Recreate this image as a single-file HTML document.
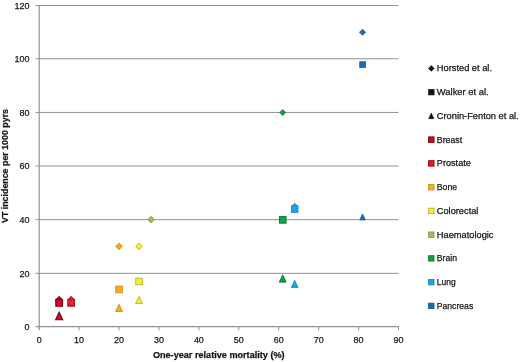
<!DOCTYPE html><html><head><meta charset="utf-8"><title>VT incidence</title>
<style>html,body{margin:0;padding:0;background:#fff}svg{display:block}text{font-family:"Liberation Sans", sans-serif;fill:#161616;stroke:#161616;stroke-width:0.25px}</style></head><body>
<svg width="520" height="362" viewBox="0 0 520 362">
<rect width="520" height="362" fill="#fff"/>
<line x1="35.60" x2="398.50" y1="273.35" y2="273.35" stroke="#929292" stroke-width="1"/>
<line x1="35.60" x2="398.50" y1="219.65" y2="219.65" stroke="#929292" stroke-width="1"/>
<line x1="35.60" x2="398.50" y1="166.00" y2="166.00" stroke="#929292" stroke-width="1"/>
<line x1="35.60" x2="398.50" y1="112.45" y2="112.45" stroke="#929292" stroke-width="1"/>
<line x1="35.60" x2="398.50" y1="58.75" y2="58.75" stroke="#929292" stroke-width="1"/>
<line x1="35.60" x2="398.50" y1="5.50" y2="5.50" stroke="#929292" stroke-width="1"/>
<line x1="39.20" x2="39.20" y1="5.00" y2="330.30" stroke="#929292" stroke-width="1.2"/>
<line x1="35.60" x2="399.00" y1="326.70" y2="326.70" stroke="#929292" stroke-width="1.2"/>
<text x="29.6" y="329.90" font-size="9.8" text-anchor="end" textLength="5.0" lengthAdjust="spacingAndGlyphs">0</text>
<text x="29.6" y="276.55" font-size="9.8" text-anchor="end" textLength="10.0" lengthAdjust="spacingAndGlyphs">20</text>
<text x="29.6" y="222.85" font-size="9.8" text-anchor="end" textLength="10.0" lengthAdjust="spacingAndGlyphs">40</text>
<text x="29.6" y="169.20" font-size="9.8" text-anchor="end" textLength="10.0" lengthAdjust="spacingAndGlyphs">60</text>
<text x="29.6" y="115.65" font-size="9.8" text-anchor="end" textLength="10.0" lengthAdjust="spacingAndGlyphs">80</text>
<text x="29.6" y="61.95" font-size="9.8" text-anchor="end" textLength="15.0" lengthAdjust="spacingAndGlyphs">100</text>
<text x="29.6" y="8.70" font-size="9.8" text-anchor="end" textLength="15.0" lengthAdjust="spacingAndGlyphs">120</text>
<text x="39.20" y="342.8" font-size="9.8" text-anchor="middle" textLength="5.0" lengthAdjust="spacingAndGlyphs">0</text>
<line x1="79.12" x2="79.12" y1="326.70" y2="330.30" stroke="#929292" stroke-width="1"/>
<text x="79.12" y="342.8" font-size="9.8" text-anchor="middle" textLength="10.0" lengthAdjust="spacingAndGlyphs">10</text>
<line x1="119.04" x2="119.04" y1="326.70" y2="330.30" stroke="#929292" stroke-width="1"/>
<text x="119.04" y="342.8" font-size="9.8" text-anchor="middle" textLength="10.0" lengthAdjust="spacingAndGlyphs">20</text>
<line x1="158.97" x2="158.97" y1="326.70" y2="330.30" stroke="#929292" stroke-width="1"/>
<text x="158.97" y="342.8" font-size="9.8" text-anchor="middle" textLength="10.0" lengthAdjust="spacingAndGlyphs">30</text>
<line x1="198.89" x2="198.89" y1="326.70" y2="330.30" stroke="#929292" stroke-width="1"/>
<text x="198.89" y="342.8" font-size="9.8" text-anchor="middle" textLength="10.0" lengthAdjust="spacingAndGlyphs">40</text>
<line x1="238.81" x2="238.81" y1="326.70" y2="330.30" stroke="#929292" stroke-width="1"/>
<text x="238.81" y="342.8" font-size="9.8" text-anchor="middle" textLength="10.0" lengthAdjust="spacingAndGlyphs">50</text>
<line x1="278.73" x2="278.73" y1="326.70" y2="330.30" stroke="#929292" stroke-width="1"/>
<text x="278.73" y="342.8" font-size="9.8" text-anchor="middle" textLength="10.0" lengthAdjust="spacingAndGlyphs">60</text>
<line x1="318.66" x2="318.66" y1="326.70" y2="330.30" stroke="#929292" stroke-width="1"/>
<text x="318.66" y="342.8" font-size="9.8" text-anchor="middle" textLength="10.0" lengthAdjust="spacingAndGlyphs">70</text>
<line x1="358.58" x2="358.58" y1="326.70" y2="330.30" stroke="#929292" stroke-width="1"/>
<text x="358.58" y="342.8" font-size="9.8" text-anchor="middle" textLength="10.0" lengthAdjust="spacingAndGlyphs">80</text>
<line x1="398.50" x2="398.50" y1="326.70" y2="330.30" stroke="#929292" stroke-width="1"/>
<text x="398.50" y="342.8" font-size="9.8" text-anchor="middle" textLength="10.0" lengthAdjust="spacingAndGlyphs">90</text>
<text x="218.75" y="358.1" font-size="9.5" font-weight="bold" fill="#000" stroke-width="0.1" text-anchor="middle" textLength="131.7" lengthAdjust="spacingAndGlyphs">One-year relative mortality (%)</text>
<text transform="translate(8.3,166) rotate(-90)" font-size="9.5" font-weight="bold" fill="#000" stroke-width="0.1" text-anchor="middle" textLength="114" lengthAdjust="spacingAndGlyphs">VT incidence per 1000 pyrs</text>
<path d="M59.16 296.63L62.46 299.93L59.16 303.23L55.86 299.93Z" fill="#d8062a" stroke="#7c0a18" stroke-width="1.3"/>
<path d="M71.14 296.63L74.44 299.93L71.14 303.23L67.84 299.93Z" fill="#ec162c" stroke="#9c1420" stroke-width="1.1"/>
<path d="M119.04 243.09L122.34 246.39L119.04 249.69L115.74 246.39Z" fill="#fbae17" stroke="#d08a18" stroke-width="0.9"/>
<path d="M139.01 243.09L142.31 246.39L139.01 249.69L135.71 246.39Z" fill="#f4f228" stroke="#b4b434" stroke-width="0.9"/>
<path d="M150.98 216.22L154.38 219.62L150.98 223.02L147.58 219.62Z" fill="#a0bc5a" stroke="#86a04c" stroke-width="0.9"/>
<path d="M282.73 109.63L285.63 112.53L282.73 115.43L279.83 112.53Z" fill="#12a246" stroke="#0c7c36" stroke-width="1.0"/>
<path d="M294.70 203.20L298.00 206.50L294.70 209.80L291.40 206.50Z" fill="#1ea2e4" stroke="#1c86c4" stroke-width="0.8"/>
<path d="M362.57 29.17L365.62 32.22L362.57 35.27L359.52 32.22Z" fill="#1a6cb4" stroke="#155a98" stroke-width="0.8"/>
<rect x="55.86" y="299.56" width="6.60" height="6.60" fill="#d8062a" stroke="#7c0a18" stroke-width="1.3"/>
<rect x="67.84" y="299.56" width="6.60" height="6.60" fill="#ec162c" stroke="#9c1420" stroke-width="1.1"/>
<rect x="115.74" y="286.17" width="6.60" height="6.60" fill="#fbae17" stroke="#d08a18" stroke-width="0.9"/>
<rect x="135.71" y="278.14" width="6.60" height="6.60" fill="#f4f228" stroke="#b4b434" stroke-width="0.9"/>
<rect x="279.43" y="216.57" width="6.60" height="6.60" fill="#12a246" stroke="#0c7c36" stroke-width="1.0"/>
<rect x="291.40" y="205.86" width="6.60" height="6.60" fill="#1ea2e4" stroke="#1c86c4" stroke-width="0.8"/>
<rect x="359.73" y="61.76" width="5.68" height="5.68" fill="#1a6cb4" stroke="#155a98" stroke-width="0.8"/>
<path d="M59.16 312.39L62.56 319.59L55.76 319.59Z" fill="#d8062a" stroke="#7c0a18" stroke-width="1.3"/>
<path d="M119.04 304.36L122.44 311.56L115.64 311.56Z" fill="#fbae17" stroke="#d08a18" stroke-width="0.9"/>
<path d="M139.01 296.33L142.41 303.53L135.61 303.53Z" fill="#f4f228" stroke="#b4b434" stroke-width="0.9"/>
<path d="M282.73 274.91L286.13 282.11L279.33 282.11Z" fill="#12a246" stroke="#0c7c36" stroke-width="1.0"/>
<path d="M294.70 280.27L298.10 287.47L291.30 287.47Z" fill="#1ea2e4" stroke="#1c86c4" stroke-width="0.8"/>
<path d="M362.57 213.95L365.36 219.93L359.78 219.93Z" fill="#1a6cb4" stroke="#155a98" stroke-width="0.8"/>
<path d="M71.14 298.63L73.74 301.13L71.14 303.53L68.54 301.13Z" fill="none" stroke="#f06a78" stroke-width="0.6" opacity="0.7"/>
<path d="M431.30 65.50L434.20 68.40L431.30 71.30L428.40 68.40Z" fill="#111" stroke="#111" stroke-width="0.6"/>
<rect x="428.50" y="89.35" width="5.60" height="5.60" fill="#111" stroke="#111" stroke-width="0.6"/>
<path d="M431.30 113.10L433.90 118.70L428.70 118.70Z" fill="#111" stroke="#111" stroke-width="0.6"/>
<text x="436.8" y="71.40" font-size="9.2" textLength="55.2" lengthAdjust="spacingAndGlyphs">Horsted et al.</text>
<text x="436.8" y="95.15" font-size="9.2" textLength="51.9" lengthAdjust="spacingAndGlyphs">Walker et al.</text>
<text x="436.8" y="118.90" font-size="9.2" textLength="81.9" lengthAdjust="spacingAndGlyphs">Cronin-Fenton et al.</text>
<rect x="428.60" y="136.95" width="5.40" height="5.40" fill="#d8062a" stroke="#7c0a18" stroke-width="1.1"/>
<text x="436.8" y="142.65" font-size="9.2" textLength="25.4" lengthAdjust="spacingAndGlyphs">Breast</text>
<rect x="428.60" y="160.70" width="5.40" height="5.40" fill="#ec162c" stroke="#9c1420" stroke-width="1.1"/>
<text x="436.8" y="166.40" font-size="9.2" textLength="34.1" lengthAdjust="spacingAndGlyphs">Prostate</text>
<rect x="428.60" y="184.45" width="5.40" height="5.40" fill="#fbae17" stroke="#d08a18" stroke-width="0.9"/>
<text x="436.8" y="190.15" font-size="9.2" textLength="20.3" lengthAdjust="spacingAndGlyphs">Bone</text>
<rect x="428.60" y="208.20" width="5.40" height="5.40" fill="#f4f228" stroke="#b4b434" stroke-width="0.9"/>
<text x="436.8" y="213.90" font-size="9.2" textLength="41.6" lengthAdjust="spacingAndGlyphs">Colorectal</text>
<rect x="428.60" y="231.95" width="5.40" height="5.40" fill="#a0bc5a" stroke="#86a04c" stroke-width="0.9"/>
<text x="436.8" y="237.65" font-size="9.2" textLength="56.7" lengthAdjust="spacingAndGlyphs">Haematologic</text>
<rect x="428.60" y="255.70" width="5.40" height="5.40" fill="#12a246" stroke="#0c7c36" stroke-width="0.9"/>
<text x="436.8" y="261.40" font-size="9.2" textLength="20.3" lengthAdjust="spacingAndGlyphs">Brain</text>
<rect x="428.60" y="279.45" width="5.40" height="5.40" fill="#1ea2e4" stroke="#1c86c4" stroke-width="0.9"/>
<text x="436.8" y="285.15" font-size="9.2" textLength="19.0" lengthAdjust="spacingAndGlyphs">Lung</text>
<rect x="428.60" y="303.20" width="5.40" height="5.40" fill="#1a6cb4" stroke="#155a98" stroke-width="0.9"/>
<text x="436.8" y="308.90" font-size="9.2" textLength="36.4" lengthAdjust="spacingAndGlyphs">Pancreas</text>
</svg></body></html>
